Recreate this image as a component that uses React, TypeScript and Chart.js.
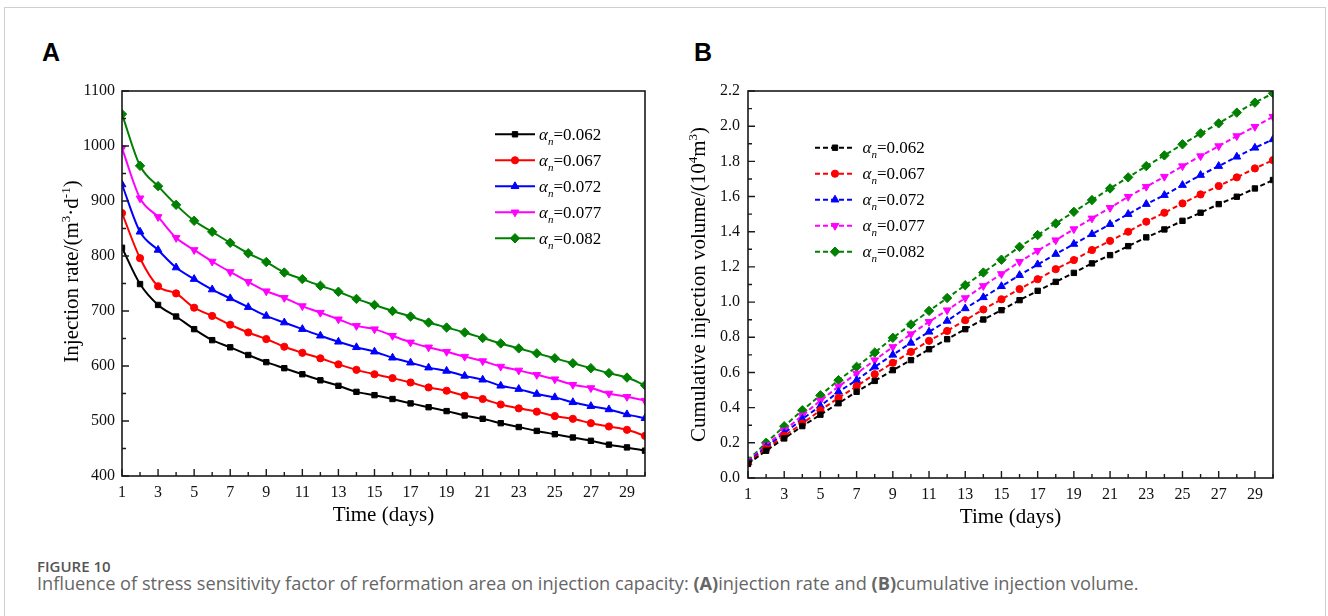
import React, { useEffect, useRef } from 'react';
import { Chart, registerables } from 'chart.js';
import { drawPoint } from 'chart.js/helpers';

Chart.register(...registerables);

// ---------------- data ----------------
const days = [1, 2, 3, 4, 5, 6, 7, 8, 9, 10, 11, 12, 13, 14, 15, 16, 17, 18, 19, 20, 21, 22, 23, 24, 25, 26, 27, 28, 29, 30];
const alphaValues = ['0.062', '0.067', '0.072', '0.077', '0.082'];

// Panel A: injection rate, m3/d
const rate062 = [815, 749, 711, 690, 667, 647, 634, 620, 607, 596, 585, 574, 564, 553, 547, 540, 532, 525, 518, 510, 504, 496, 489, 482, 476, 470, 464, 457, 452, 446];
const rate067 = [878, 796, 745, 732, 706, 691, 675, 661, 649, 635, 624, 614, 603, 593, 585, 578, 570, 561, 555, 546, 540, 530, 523, 517, 509, 504, 496, 490, 484, 473];
const rate072 = [930, 844, 811, 779, 758, 739, 723, 707, 691, 679, 667, 655, 644, 634, 626, 615, 606, 597, 591, 582, 575, 564, 558, 549, 543, 534, 527, 521, 512, 505];
const rate077 = [996, 905, 871, 833, 811, 790, 771, 753, 736, 724, 709, 697, 685, 673, 667, 655, 643, 634, 626, 617, 609, 599, 592, 584, 576, 566, 560, 550, 544, 537];
const rate082 = [1058, 964, 927, 893, 864, 844, 824, 805, 789, 770, 758, 746, 735, 722, 711, 700, 690, 679, 670, 661, 651, 641, 632, 623, 614, 605, 596, 587, 579, 565];

// Panel B: cumulative injection volume, 10^4 m3
const cum062 = [0.08, 0.155, 0.225, 0.295, 0.36, 0.425, 0.49, 0.552, 0.613, 0.67, 0.732, 0.789, 0.846, 0.901, 0.954, 1.011, 1.064, 1.115, 1.166, 1.22, 1.267, 1.318, 1.368, 1.413, 1.462, 1.508, 1.557, 1.599, 1.646, 1.694];
const cum067 = [0.085, 0.165, 0.24, 0.31, 0.385, 0.455, 0.522, 0.59, 0.655, 0.717, 0.78, 0.836, 0.897, 0.958, 1.016, 1.074, 1.13, 1.187, 1.239, 1.296, 1.348, 1.4, 1.457, 1.508, 1.561, 1.612, 1.66, 1.709, 1.76, 1.807];
const cum072 = [0.09, 0.175, 0.255, 0.335, 0.41, 0.49, 0.556, 0.632, 0.7, 0.768, 0.831, 0.893, 0.964, 1.027, 1.09, 1.153, 1.214, 1.273, 1.33, 1.386, 1.443, 1.5, 1.557, 1.608, 1.665, 1.722, 1.773, 1.826, 1.877, 1.925];
const cum077 = [0.095, 0.185, 0.27, 0.355, 0.44, 0.52, 0.594, 0.67, 0.745, 0.818, 0.888, 0.954, 1.023, 1.092, 1.16, 1.229, 1.292, 1.352, 1.415, 1.476, 1.536, 1.599, 1.656, 1.713, 1.773, 1.83, 1.887, 1.944, 1.997, 2.054];
const cum082 = [0.1, 0.2, 0.294, 0.385, 0.47, 0.556, 0.632, 0.713, 0.797, 0.873, 0.95, 1.023, 1.096, 1.168, 1.241, 1.314, 1.381, 1.447, 1.513, 1.58, 1.646, 1.709, 1.773, 1.834, 1.897, 1.959, 2.016, 2.077, 2.134, 2.187];

const xTickValues = [1, 3, 5, 7, 9, 11, 13, 15, 17, 19, 21, 23, 25, 27, 29];
const yTicksA = [400, 500, 600, 700, 800, 900, 1000, 1100];
const yTickLabelsA = ['400', '500', '600', '700', '800', '900', '1000', '1100'];
const yTicksB = [0, 0.2, 0.4, 0.6, 0.8, 1.0, 1.2, 1.4, 1.6, 1.8, 2.0, 2.2];
const yTickLabelsB = ['0.0', '0.2', '0.4', '0.6', '0.8', '1.0', '1.2', '1.4', '1.6', '1.8', '2.0', '2.2'];

// ---------------- styles ----------------
const SERIF = "'Liberation Serif', 'Times New Roman', serif";
const seriesColors = ['#000000', '#ff0000', '#0000ff', '#ff00ff', '#008000'];
const seriesPointStyles = ['rect', 'circle', 'triangle', 'triangle', 'rectRot'];
const seriesRotations = [0, 0, 0, 180, 0];
const seriesRadii = [3.8, 3.6, 4.5, 4.5, 4.7];

type Seg = { t: string; sup?: boolean; sub?: boolean; it?: boolean };

function drawRich(ctx: CanvasRenderingContext2D, segs: Seg[], size: number, x0: number, baseline: number, align: 'left' | 'center') {
  const fontFor = (s: Seg) => `${s.it ? 'italic ' : ''}${s.sup || s.sub ? Math.round(size * 0.62) : size}px ${SERIF}`;
  let total = 0;
  const widths: number[] = [];
  for (const s of segs) {
    ctx.font = fontFor(s);
    const w = ctx.measureText(s.t).width;
    widths.push(w);
    total += w;
  }
  let x = align === 'center' ? x0 - total / 2 : x0;
  ctx.textAlign = 'left';
  ctx.textBaseline = 'alphabetic';
  segs.forEach((s, i) => {
    ctx.font = fontFor(s);
    const dy = s.sup ? -size * 0.4 : s.sub ? size * 0.3 : 0;
    ctx.fillText(s.t, x, baseline + dy);
    x += widths[i];
  });
}

const decorPlugin = {
  id: 'decor',
  afterDraw(chart: any, _args: any, opts: any) {
    const { ctx, chartArea: a, scales } = chart;
    const xs = scales.x;
    const ys = scales.y;
    ctx.save();
    // frame
    ctx.strokeStyle = '#1a1a1a';
    ctx.lineWidth = 1.6;
    ctx.strokeRect(a.left, a.top, a.right - a.left, a.bottom - a.top);
    // inward ticks
    ctx.beginPath();
    ctx.lineWidth = 1.4;
    for (const d of days) {
      const px = xs.getPixelForValue(d);
      const len = xTickValues.includes(d) ? 7 : 4;
      ctx.moveTo(px, a.bottom);
      ctx.lineTo(px, a.bottom - len);
    }
    const yt: number[] = opts.yTicks;
    for (let i = 0; i < yt.length; i++) {
      const py = ys.getPixelForValue(yt[i]);
      ctx.moveTo(a.left, py);
      ctx.lineTo(a.left + 7, py);
      if (i < yt.length - 1) {
        const pm = ys.getPixelForValue((yt[i] + yt[i + 1]) / 2);
        ctx.moveTo(a.left, pm);
        ctx.lineTo(a.left + 4, pm);
      }
    }
    ctx.stroke();

    // axis titles
    ctx.fillStyle = '#000';
    drawRich(ctx, [{ t: 'Time (days)' }], 21, (a.left + a.right) / 2, a.bottom + 45, 'center');
    ctx.save();
    ctx.translate(a.left - opts.yTitleDX, (a.top + a.bottom) / 2 + opts.yTitleDY);
    ctx.rotate(-Math.PI / 2);
    drawRich(ctx, opts.yTitle, 21, 0, 0, 'center');
    ctx.restore();

    // legend
    const lx = a.left + opts.legendX;
    const ly = a.top + opts.legendY;
    chart.data.datasets.forEach((ds: any, i: number) => {
      const yy = ly + i * 26;
      ctx.save();
      ctx.strokeStyle = ds.borderColor;
      ctx.lineWidth = 2;
      ctx.setLineDash(ds.borderDash || []);
      ctx.beginPath();
      ctx.moveTo(lx, yy);
      ctx.lineTo(lx + 40, yy);
      ctx.stroke();
      ctx.setLineDash([]);
      ctx.fillStyle = ds.pointBackgroundColor;
      ctx.strokeStyle = ds.pointBorderColor;
      ctx.lineWidth = 1;
      drawPoint(ctx, { pointStyle: ds.pointStyle, rotation: ds.pointRotation, radius: ds.pointRadius, borderWidth: 1 }, lx + 20, yy);
      ctx.restore();
      ctx.fillStyle = '#000';
      drawRich(ctx, [{ t: 'α', it: true }, { t: 'n', it: true, sub: true }, { t: '=' + alphaValues[i] }], 17, lx + 40 + opts.textGap, yy + 5.5, 'left');
    });
    ctx.restore();
  },
};

function makeDatasets(series: number[][], dashed: boolean) {
  return series.map((vals, i) => ({
    label: 'αn=' + alphaValues[i],
    data: days.map((d, j) => ({ x: d, y: vals[j] })),
    borderColor: seriesColors[i],
    backgroundColor: seriesColors[i],
    pointBackgroundColor: seriesColors[i],
    pointBorderColor: seriesColors[i],
    pointBorderWidth: 1,
    pointStyle: seriesPointStyles[i],
    pointRotation: seriesRotations[i],
    pointRadius: seriesRadii[i],
    borderWidth: 2,
    borderDash: dashed ? [5, 3] : [],
    cubicInterpolationMode: dashed ? 'default' : 'monotone',
    tension: dashed ? 0 : 0.4,
    fill: false,
  }));
}

function makeConfig(kind: 'A' | 'B') {
  const isA = kind === 'A';
  const yTicks = isA ? yTicksA : yTicksB;
  const yLabels = isA ? yTickLabelsA : yTickLabelsB;
  const tickFont = { family: SERIF, size: 16 };
  return {
    type: 'line',
    data: {
      datasets: isA
        ? makeDatasets([rate062, rate067, rate072, rate077, rate082], false)
        : makeDatasets([cum062, cum067, cum072, cum077, cum082], true),
    },
    options: {
      animation: false,
      responsive: false,
      events: [],
      layout: { padding: { top: 21, right: isA ? 20 : 22, left: 0, bottom: 0 } },
      plugins: {
        legend: { display: false },
        tooltip: { enabled: false },
        decor: isA
          ? {
              yTicks,
              yTitle: [{ t: 'Injection rate/(m' }, { t: '3', sup: true }, { t: '·d' }, { t: '-1', sup: true }, { t: ')' }],
              yTitleDX: 44,
              yTitleDY: -12,
              legendX: 373,
              legendY: 43.3,
              textGap: 4,
            }
          : {
              yTicks,
              yTitle: [{ t: 'Cumulative injection volume/(10' }, { t: '4', sup: true }, { t: 'm' }, { t: '3', sup: true }, { t: ')' }],
              yTitleDX: 43,
              yTitleDY: 0,
              legendX: 67,
              legendY: 56.7,
              textGap: 7.5,
            },
      },
      scales: {
        x: {
          type: 'linear',
          min: 1,
          max: 30,
          afterBuildTicks: (s: any) => {
            s.ticks = xTickValues.map((v) => ({ value: v }));
          },
          afterFit: (s: any) => {
            s.height = isA ? 64 : 62;
          },
          grid: { display: false, drawTicks: false },
          border: { display: false },
          ticks: {
            autoSkip: false,
            maxRotation: 0,
            minRotation: 0,
            padding: 7,
            color: '#111',
            font: tickFont,
            callback: (v: any) => String(v),
          },
        },
        y: {
          type: 'linear',
          min: yTicks[0],
          max: yTicks[yTicks.length - 1],
          afterBuildTicks: (s: any) => {
            s.ticks = yTicks.map((v) => ({ value: v }));
          },
          afterFit: (s: any) => {
            s.width = isA ? 82 : 68;
          },
          grid: { display: false, drawTicks: false },
          border: { display: false },
          ticks: {
            autoSkip: false,
            padding: isA ? 7 : 8,
            color: '#111',
            font: tickFont,
            callback: (_v: any, idx: number) => yLabels[idx],
          },
        },
      },
    },
    plugins: [decorPlugin],
  } as any;
}

export default function App() {
  const refA = useRef<HTMLCanvasElement | null>(null);
  const refB = useRef<HTMLCanvasElement | null>(null);

  useEffect(() => {
    const cA = new Chart(refA.current as HTMLCanvasElement, makeConfig('A'));
    const cB = new Chart(refB.current as HTMLCanvasElement, makeConfig('B'));
    return () => {
      cA.destroy();
      cB.destroy();
    };
  }, []);

  return (
    <div style={{ position: 'absolute', left: 0, top: 0, width: 1328, height: 616, overflow: 'hidden', background: '#fff' }}>
      <div
        style={{
          position: 'absolute',
          left: 4,
          top: 7,
          width: 1322,
          height: 700,
          boxSizing: 'border-box',
          border: '1px solid #cfcfcf',
        }}
      />
      <div style={{ position: 'absolute', left: 42, top: 38, font: "bold 25px 'Liberation Sans', Arial, sans-serif", lineHeight: 'normal', color: '#000' }}>A</div>
      <div style={{ position: 'absolute', left: 694, top: 38, font: "bold 25px 'Liberation Sans', Arial, sans-serif", lineHeight: 'normal', color: '#000' }}>B</div>
      <canvas ref={refA} width={625} height={470} style={{ position: 'absolute', left: 40, top: 70, width: 625, height: 470 }} />
      <canvas ref={refB} width={615} height={470} style={{ position: 'absolute', left: 680, top: 70, width: 615, height: 470 }} />
      <div style={{ position: 'absolute', left: 37, top: 556, font: "600 15px 'Open Sans', sans-serif", lineHeight: 'normal', color: '#555', whiteSpace: 'nowrap' }}>
        FIGURE 10
      </div>
      <div style={{ position: 'absolute', left: 37, top: 571, font: "18.2px 'Open Sans', sans-serif", lineHeight: 'normal', color: '#666', whiteSpace: 'nowrap' }}>
        Influence of stress sensitivity factor of reformation area on injection capacity: <b>(A)</b>injection rate and <b>(B)</b>cumulative injection volume.
      </div>
    </div>
  );
}
